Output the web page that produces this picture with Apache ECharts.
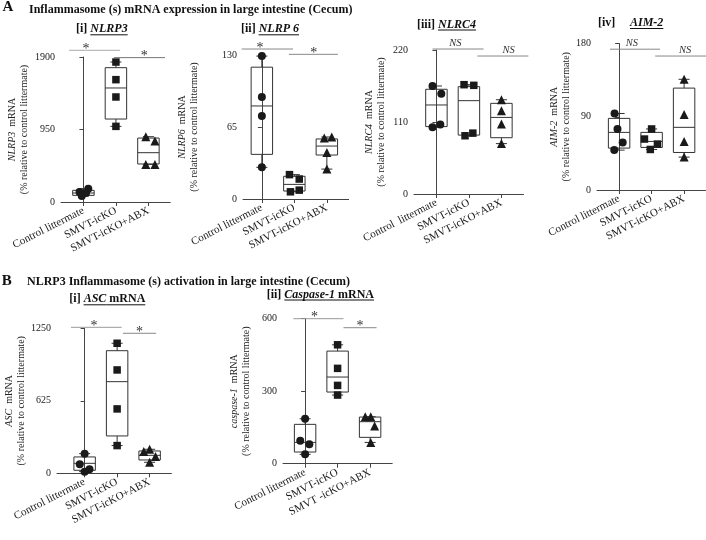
<!DOCTYPE html>
<html><head><meta charset="utf-8">
<script src="https://cdn.jsdelivr.net/npm/echarts@6/dist/echarts.min.js"></script>
<style>html,body{margin:0;padding:0;background:#fff}#c{width:706px;height:540px}</style>
</head><body><div id="c"></div>
<script>
// ---------- DATA ----------
const categories = ['Control littermate', 'SMVT-icKO', 'SMVT-icKO+ABX'];
const categoriesNLRC4 = ['Control  littermate', 'SMVT-icKO', 'SMVT-icKO+ABX'];
const categoriesCasp = ['Control littermate', 'SMVT-icKO', 'SMVT -icKO+ABX'];
const groupSymbols = ['circle', 'rect', 'triangle'];

// y-axis maxima (ticks at 0, max/2, max)
const yMaxValues = [1900, 130, 220, 180, 1250, 600];

// NLRP3
const nlrp3Control = [131, 79, 118, 175];
const nlrp3Smvt = [1834, 1603, 1376, 991];
const nlrp3Abx = [856, 799, 493, 493];
const nlrp3Box = [[79, 87, 118, 153, 175], [991, 1087, 1494, 1760, 1834], [493, 498, 646, 838, 856]]; // min,Q1,median,Q3,max
const nlrp3Jitter = [[-0.12, -0.05, 0.08, 0.15], [0, 0, 0, 0], [-0.08, 0.2, -0.08, 0.2]];
const nlrp3Sig = [[-0.44, 1.13, 1988, '*', 0.08], [0.94, 2.51, 1892, '*', 1.87]];

// NLRP6
const nlrp6Control = [129, 92, 75, 28.6];
const nlrp6Smvt = [22, 18, 6.5, 8];
const nlrp6Abx = [55, 56, 42, 27];
const nlrp6Box = [[28.6, 40.3, 84, 119, 129], [6.5, 7.2, 13.2, 20.5, 22], [27, 39.7, 47.8, 54.2, 56]];
const nlrp6Jitter = [[0, 0, 0, 0], [-0.15, 0.15, -0.12, 0.15], [-0.08, 0.15, 0, 0]];
const nlrp6Sig = [[-0.62, 0.96, 135.4, '*', -0.06], [0.83, 2.34, 130.6, '*', 1.6]];

// NLRC4
const nlrc4Control = [165, 153, 102, 106];
const nlrc4Smvt = [167, 166, 89, 93];
const nlrc4Abx = [144, 127, 107, 77];
const nlrc4Box = [[102, 103, 136, 160, 165], [89, 90, 142.6, 164, 167], [77, 86, 117, 138.5, 144]];
const nlrc4Jitter = [[-0.12, 0.15, -0.12, 0.12], [-0.15, 0.15, -0.12, 0.12], [0, 0, 0, 0]];
const nlrc4Sig = [[-0.12, 1.45, 221.5, 'NS', 0.58], [1.26, 2.83, 210.8, 'NS', 2.22]];

// AIM-2
const aim2Control = [94, 75, 58.5, 49];
const aim2Smvt = [75, 62.6, 56.4, 49.8];
const aim2Abx = [136, 92.7, 59.7, 40.4];
const aim2Box = [[49, 51.5, 70.8, 88, 94], [49.8, 52.3, 59.7, 70.8, 75], [40.4, 46.1, 77, 125.2, 136]];
const aim2Jitter = [[-0.14, -0.05, 0.11, -0.15], [0, -0.22, 0.18, -0.04], [0, 0, 0, 0]];
const aim2Sig = [[-0.28, 1.26, 173, 'NS', 0.39], [1.11, 2.68, 164.6, 'NS', 2.03]];

// ASC
const ascControl = [169.5, 77.6, 34.5, 14.4];
const ascSmvt = [1121, 891, 555, 239];
const ascAbx = [207, 187, 144, 95];
const ascBox = [[14.4, 25.9, 86, 141, 169.5], [239, 322, 790, 1057, 1121], [95, 115, 155, 192.5, 207]];
const ascJitter = [[0, -0.15, 0.15, 0], [0, 0, 0, 0], [0, -0.18, 0.18, 0]];
const ascSig = [[-0.42, 1.14, 1258.6, '*', 0.29], [1.18, 2.2, 1207, '*', 1.69]];

// Caspase-1
const caspControl = [186, 95, 80, 38.6];
const caspSmvt = [492, 394.5, 324, 284];
const caspAbx = [194.5, 194.5, 156, 88];
const caspBox = [[38.6, 48.3, 88.3, 162.8, 186], [284, 296.5, 358.6, 466, 492], [88, 109, 173.8, 193, 194.5]];
const caspJitter = [[0, -0.15, 0.13, 0], [0, 0, 0, 0], [-0.15, 0.02, 0.14, 0.02]];
const caspSig = [[-0.36, 1.18, 600, '*', 0.29], [1.18, 2.2, 562.7, '*', 1.69]];

const panels = [
  {gene: 'NLRP3', cats: categories, points: [nlrp3Control, nlrp3Smvt, nlrp3Abx], box: nlrp3Box, jitter: nlrp3Jitter, sig: nlrp3Sig},
  {gene: 'NLRP6', cats: categories, points: [nlrp6Control, nlrp6Smvt, nlrp6Abx], box: nlrp6Box, jitter: nlrp6Jitter, sig: nlrp6Sig},
  {gene: 'NLRC4', cats: categoriesNLRC4, points: [nlrc4Control, nlrc4Smvt, nlrc4Abx], box: nlrc4Box, jitter: nlrc4Jitter, sig: nlrc4Sig},
  {gene: 'AIM-2', cats: categories, points: [aim2Control, aim2Smvt, aim2Abx], box: aim2Box, jitter: aim2Jitter, sig: aim2Sig},
  {gene: 'ASC', cats: categories, points: [ascControl, ascSmvt, ascAbx], box: ascBox, jitter: ascJitter, sig: ascSig},
  {gene: 'caspase-1', cats: categoriesCasp, points: [caspControl, caspSmvt, caspAbx], box: caspBox, jitter: caspJitter, sig: caspSig}
];

// ---------- LAYOUT ----------
const SPACING = 32.5;
const layouts = [
  {left: 61, top: 57, height: 145, xMin: -0.69, xMax: 2.67, nameGap: 31, sigColors: ['#aaa', '#777']},
  {left: 243, top: 55, height: 144, xMin: -0.58, xMax: 2.67, nameGap: 43, sigColors: ['#888', '#888']},
  {left: 414, top: 50, height: 144, xMin: -0.69, xMax: 2.68, nameGap: 27, sigColors: ['#888', '#888']},
  {left: 597, top: 43.5, height: 146.5, xMin: -0.68, xMax: 2.66, nameGap: 24, sigColors: ['#888', '#888']},
  {left: 57, top: 328.3, height: 145, xMin: -0.85, xMax: 2.67, nameGap: 30, sigColors: ['#999', '#888']},
  {left: 283, top: 318.7, height: 145, xMin: -0.68, xMax: 2.68, nameGap: 31, sigColors: ['#999', '#888']}
];

const FONT = 'Liberation Serif';
const INK = '#1a1a1a';
const LINE = '#444';

const chart = echarts.init(document.getElementById('c'), null, {renderer: 'canvas', width: 706, height: 540});

const grids = [], xAxes = [], yAxes = [], series = [];

function makeBoxRenderer() {
  return function (params, api) {
    const x = api.value(0);
    const mn = api.value(1), q1 = api.value(2), md = api.value(3), q3 = api.value(4), mx = api.value(5);
    const hw = 0.33, cw = 0.17;
    const c = (xx, yy) => api.coord([xx, yy]);
    const st = {stroke: '#333', lineWidth: 1, fill: null};
    const tl = c(x - hw, q3), br = c(x + hw, q1);
    const ln = (a, b) => ({type: 'line', shape: {x1: a[0], y1: a[1], x2: b[0], y2: b[1]}, style: st});
    return {type: 'group', children: [
      {type: 'rect', shape: {x: tl[0], y: tl[1], width: br[0] - tl[0], height: br[1] - tl[1]}, style: st},
      ln(c(x - hw, md), c(x + hw, md)),
      ln(c(x, q3), c(x, mx)),
      ln(c(x - cw, mx), c(x + cw, mx)),
      ln(c(x, q1), c(x, mn)),
      ln(c(x - cw, mn), c(x + cw, mn))
    ]};
  };
}

function makeSigRenderer(sig, colors) {
  return function (params, api) {
    const s = sig[params.dataIndex];
    const a = api.coord([s[0], s[2]]), b = api.coord([s[1], s[2]]);
    const lx = api.coord([s[4], s[2]])[0];
    const isNS = s[3] === 'NS';
    return {type: 'group', children: [
      {type: 'line', shape: {x1: a[0], y1: a[1], x2: b[0], y2: b[1]}, style: {stroke: colors[params.dataIndex], lineWidth: 1}},
      {type: 'text', x: lx, y: a[1] - (isNS ? 6 : 1), style: {
        text: s[3], fill: '#333', align: 'center', verticalAlign: 'middle',
        font: (isNS ? 'italic 10.5px ' : '14px ') + '"' + FONT + '"'
      }}
    ]};
  };
}

panels.forEach((p, i) => {
  const L = layouts[i];
  const width = (L.xMax - L.xMin) * SPACING;
  grids.push({left: L.left, top: L.top, width: width, height: L.height, containLabel: false, outerBoundsMode: 'none'});
  xAxes.push({
    type: 'value', gridIndex: i, min: L.xMin, max: L.xMax,
    splitLine: {show: false},
    axisLine: {show: true, lineStyle: {color: LINE, width: 1}},
    axisTick: {show: true, customValues: [0, 1, 2], length: 4, lineStyle: {color: LINE}},
    axisLabel: {show: true, customValues: [0, 1, 2], rotate: 27, margin: 8, fontSize: 11, fontFamily: FONT, color: INK,
      formatter: v => p.cats[Math.round(v)]}
  });
  yAxes.push({
    type: 'value', gridIndex: i, min: 0, max: yMaxValues[i], interval: yMaxValues[i] / 2,
    splitLine: {show: false},
    axisLine: {show: true, lineStyle: {color: LINE, width: 1}},
    axisTick: {show: true, length: 4, lineStyle: {color: LINE}},
    axisLabel: {fontSize: 10, fontFamily: FONT, color: INK, margin: 6, formatter: v => String(v)},
    name: '{g|' + p.gene + '}{m|  mRNA}\n{m|(% relative to control littermate)}',
    nameLocation: 'middle', nameRotate: 90, nameGap: L.nameGap,
    nameTextStyle: {fontFamily: FONT, fontSize: 10, color: '#222', lineHeight: 12,
      rich: {g: {fontStyle: 'italic', fontFamily: FONT, fontSize: 10, color: '#222', lineHeight: 12},
             m: {fontFamily: FONT, fontSize: 10, color: '#222', lineHeight: 12}}}
  });
  series.push({
    type: 'custom', xAxisIndex: i, yAxisIndex: i, silent: true, clip: false, z: 2,
    renderItem: makeBoxRenderer(),
    encode: {x: 0, y: [1, 2, 3, 4, 5]},
    data: p.box.map((b, k) => [k].concat(b))
  });
  p.points.forEach((arr, k) => {
    series.push({
      type: 'scatter', xAxisIndex: i, yAxisIndex: i, silent: true, z: 3,
      symbol: groupSymbols[k], symbolSize: k === 1 ? 7.5 : (k === 2 ? 9 : 8),
      itemStyle: {color: INK, opacity: 1},
      data: arr.map((v, j) => [k + p.jitter[k][j], v])
    });
  });
  series.push({
    type: 'custom', xAxisIndex: i, yAxisIndex: i, silent: true, clip: false, z: 4,
    renderItem: makeSigRenderer(p.sig, L.sigColors),
    encode: {x: [0, 1], y: 2},
    data: p.sig.map(s => [s[0], s[1], s[2]])
  });
});

// ---------- TITLES ----------
const titles = [
  {x: 2.5, base: 12.7, size: 15, parts: [{t: 'A'}]},
  {x: 29, base: 13.5, size: 12, parts: [{t: 'Inflammasome (s) mRNA expression in large intestine (Cecum)'}]},
  {x: 76, base: 33.3, size: 12, parts: [{t: '[i] '}, {t: 'NLRP3', it: 1, u: 1}]},
  {x: 241, base: 33.3, size: 12, parts: [{t: '[ii] '}, {t: 'NLRP 6', it: 1, u: 1}]},
  {x: 417, base: 28.5, size: 12, parts: [{t: '[iii] '}, {t: 'NLRC4', it: 1, u: 1}]},
  {x: 598, base: 27, size: 12, parts: [{t: '[iv]'}]},
  {x: 630, base: 27, size: 12, parts: [{t: 'AIM-2', it: 1, u: 1}]},
  {x: 1.7, base: 286.7, size: 15, parts: [{t: 'B'}]},
  {x: 27, base: 286, size: 12, parts: [{t: 'NLRP3 Inflammasome (s) activation in large intestine (Cecum)'}]},
  {x: 69.3, base: 303.3, size: 12, parts: [{t: '[i] '}, {t: 'ASC', it: 1, u: 1}, {t: ' mRNA', u: 1}]},
  {x: 266.7, base: 298.5, size: 12, parts: [{t: '[ii] '}, {t: 'Caspase-1', it: 1, u: 1}, {t: ' mRNA', u: 1}]}
];

const ctx = document.createElement('canvas').getContext('2d');
const graphic = [];
titles.forEach(tt => {
  let cx = tt.x;
  tt.parts.forEach(pt => {
    const font = (pt.it ? 'italic ' : '') + 'bold ' + tt.size + 'px "' + FONT + '"';
    ctx.font = font;
    const w = ctx.measureText(pt.t).width;
    graphic.push({type: 'text', x: cx, y: tt.base - 0.34 * tt.size, silent: true,
      style: {text: pt.t, font: font, fill: '#111', align: 'left', verticalAlign: 'middle'}});
    if (pt.u) {
      graphic.push({type: 'line', silent: true,
        shape: {x1: cx, y1: tt.base + 1.5, x2: cx + w, y2: tt.base + 1.5},
        style: {stroke: '#111', lineWidth: 1}});
    }
    cx += w;
  });
});

chart.setOption({
  animation: false,
  backgroundColor: '#fff',
  textStyle: {fontFamily: FONT},
  grid: grids,
  xAxis: xAxes,
  yAxis: yAxes,
  series: series,
  graphic: graphic
});
</script>
</body></html>
